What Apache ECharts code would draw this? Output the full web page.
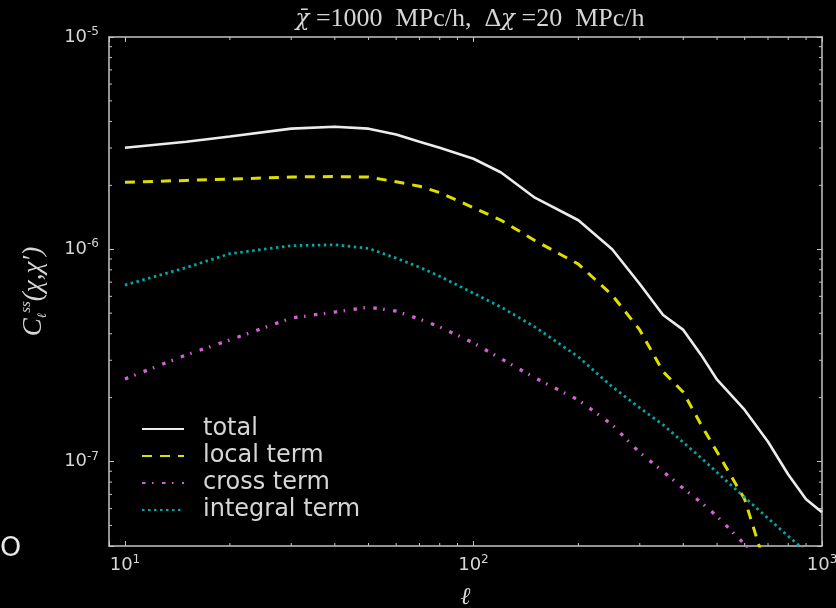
<!DOCTYPE html>
<html>
<head>
<meta charset="utf-8">
<script src="https://cdn.jsdelivr.net/npm/echarts@6/dist/echarts.min.js"></script>
<style>
html,body{margin:0;padding:0;background:#000;}
#chart{width:836px;height:608px;}
</style>
</head>
<body>
<div id="chart"></div>
<script>
// ---- data ----
const ellValues = [10, 15, 20, 30, 40, 50, 60, 70, 80, 100, 120, 150, 200, 250, 300, 350, 400, 450, 500, 600, 700, 800, 900, 1000];
const totalValues = [3.01e-6, 3.21e-6, 3.40e-6, 3.70e-6, 3.78e-6, 3.70e-6, 3.47e-6, 3.21e-6, 3.01e-6, 2.67e-6, 2.30e-6, 1.75e-6, 1.37e-6, 1.00e-6, 6.86e-7, 4.90e-7, 4.17e-7, 3.18e-7, 2.43e-7, 1.75e-7, 1.24e-7, 8.69e-8, 6.64e-8, 5.77e-8];
const localValues = [2.07e-6, 2.11e-6, 2.14e-6, 2.19e-6, 2.20e-6, 2.19e-6, 2.08e-6, 1.98e-6, 1.85e-6, 1.57e-6, 1.37e-6, 1.10e-6, 8.51e-7, 6.08e-7, 4.17e-7, 2.65e-7, 2.12e-7, 1.49e-7, 1.11e-7, 6.64e-8, 2.94e-8, null, null, null];
const crossValues = [2.45e-7, 3.18e-7, 3.74e-7, 4.74e-7, 5.06e-7, 5.34e-7, 5.11e-7, 4.69e-7, 4.31e-7, 3.62e-7, 3.05e-7, 2.48e-7, 1.95e-7, 1.49e-7, 1.10e-7, 8.98e-8, 7.47e-8, 6.42e-8, 5.52e-8, 4.07e-8, 3.10e-8, null, null, null];
const integralValues = [6.78e-7, 8.20e-7, 9.53e-7, 1.04e-6, 1.05e-6, 1.01e-6, 9.08e-7, 8.23e-7, 7.46e-7, 6.21e-7, 5.34e-7, 4.31e-7, 3.11e-7, 2.25e-7, 1.79e-7, 1.49e-7, 1.23e-7, 1.04e-7, 8.88e-8, 6.78e-8, 5.40e-8, 4.45e-8, 3.77e-8, null];
const seriesNames = ['total', 'local term', 'cross term', 'integral term'];
const xMin = 9, xMax = 1000;
const yMin = 4e-8, yMax = 1e-5;
const xMinorTicks = [20, 30, 40, 50, 60, 70, 80, 90, 200, 300, 400, 500, 600, 700, 800, 900];
const yMinorTicks = [5e-8, 6e-8, 7e-8, 8e-8, 9e-8, 2e-7, 3e-7, 4e-7, 5e-7, 6e-7, 7e-7, 8e-7, 9e-7, 2e-6, 3e-6, 4e-6, 5e-6, 6e-6, 7e-6, 8e-6, 9e-6];
const titleText = '{v|χ̄}{t| =1000  MPc/h,  Δ}{v|χ}{t| =20  MPc/h}';

// ---- helpers ----
function pairs(vals) {
  const out = [];
  ellValues.forEach((l, i) => { if (vals[i] != null) out.push([l, vals[i]]); });
  return out;
}
function powLabel(v) {
  const lg = Math.log10(v);
  const e = Math.round(lg);
  if (Math.abs(lg - e) > 1e-6) return '';
  return '{b|10}{s|' + (e < 0 ? '-' + (-e) : e) + '}';
}
const textColor = '#d6d6d6';
const axisColor = '#c4c4c4';
const labelRich = {
  b: { fontFamily: 'DejaVu Sans', fontSize: 18, color: textColor, lineHeight: 22 },
  s: { fontFamily: 'DejaVu Sans', fontSize: 12, color: textColor, lineHeight: 12, verticalAlign: 'top' }
};

const chart = echarts.init(document.getElementById('chart'), null, { renderer: 'canvas' });

function minorTickRender(isX) {
  return function (params, api) {
    const a = api.coord([api.value(0), api.value(1)]);
    const len = 3;
    if (isX) {
      const b = api.coord([api.value(0), yMax]);
      return { type: 'group', children: [
        { type: 'line', shape: { x1: a[0], y1: a[1], x2: a[0], y2: a[1] - len }, style: { stroke: axisColor, lineWidth: 1 } },
        { type: 'line', shape: { x1: b[0], y1: b[1], x2: b[0], y2: b[1] + len }, style: { stroke: axisColor, lineWidth: 1 } }
      ] };
    } else {
      const b = api.coord([xMax, api.value(1)]);
      return { type: 'group', children: [
        { type: 'line', shape: { x1: a[0], y1: a[1], x2: a[0] + len, y2: a[1] }, style: { stroke: axisColor, lineWidth: 1 } },
        { type: 'line', shape: { x1: b[0], y1: b[1], x2: b[0] - len, y2: b[1] }, style: { stroke: axisColor, lineWidth: 1 } }
      ] };
    }
  };
}

const commonAxis = {
  axisLine: { show: true, lineStyle: { color: axisColor, width: 1.5 } },
  axisTick: { show: true, inside: true, length: 5, lineStyle: { color: axisColor, width: 1 } },
  splitLine: { show: false },
  minorTick: { show: false },
  minorSplitLine: { show: false }
};

const option = {
  backgroundColor: '#000000',
  animation: false,
  title: {
    text: titleText,
    left: 465, top: 1, textAlign: 'center',
    textStyle: {
      fontWeight: 'normal',
      rich: {
        t: { fontFamily: 'Liberation Serif', fontWeight: 'normal', fontSize: 26, color: textColor },
        v: { fontFamily: 'DejaVu Serif', fontStyle: 'italic', fontWeight: 'normal', fontSize: 23, color: textColor }
      }
    }
  },
  grid: { left: 109, right: 14, top: 37, bottom: 62, containLabel: false, outerBoundsMode: 'none' },
  legend: {
    orient: 'vertical', left: 136, top: 412,
    itemWidth: 42, itemHeight: 20, itemGap: 3,
    data: seriesNames,
    itemStyle: { color: 'rgba(0,0,0,0)', borderColor: 'rgba(0,0,0,0)', borderWidth: 0, opacity: 0 },
    textStyle: { fontFamily: 'DejaVu Sans', fontSize: 24, lineHeight: 24, color: textColor, padding: [0, 0, 0, 14] }
  },
  xAxis: [
    Object.assign({}, commonAxis, {
      type: 'log', logBase: 10, min: xMin, max: xMax, position: 'bottom',
      axisLabel: { formatter: powLabel, rich: labelRich, margin: 8 },
      name: 'ℓ', nameLocation: 'middle', nameGap: 40,
      nameTextStyle: { fontFamily: 'DejaVu Serif', fontStyle: 'italic', fontSize: 24, color: textColor }
    }),
    Object.assign({}, commonAxis, {
      type: 'log', logBase: 10, min: xMin, max: xMax, position: 'top',
      axisLabel: { show: false }
    })
  ],
  yAxis: [
    Object.assign({}, commonAxis, {
      type: 'log', logBase: 10, min: yMin, max: yMax, position: 'left',
      axisLabel: { formatter: powLabel, rich: labelRich, margin: 10 },
      name: '{c|C}{l|ℓ}{p|ss}{c|(χ,χ′)}', nameLocation: 'middle', nameGap: 60,
      nameTextStyle: {
        rich: {
          c: { fontFamily: 'Liberation Serif', fontStyle: 'italic', fontSize: 27, color: textColor, lineHeight: 30 },
          l: { fontFamily: 'DejaVu Serif', fontStyle: 'italic', fontSize: 13, color: textColor, lineHeight: 14, verticalAlign: 'bottom' },
          p: { fontFamily: 'Liberation Serif', fontStyle: 'italic', fontSize: 15, color: textColor, lineHeight: 15, verticalAlign: 'top' }
        }
      }
    }),
    Object.assign({}, commonAxis, {
      type: 'log', logBase: 10, min: yMin, max: yMax, position: 'right',
      axisLabel: { show: false }
    })
  ],
  graphic: [
    { type: 'text', left: 0, top: 535, style: { text: 'O', fontFamily: 'DejaVu Sans', fontSize: 27, fill: '#e8e8e8' } }
  ],
  series: [
    { name: seriesNames[0], type: 'line', data: pairs(totalValues), symbol: 'none', clip: true,
      lineStyle: { color: '#ececec', width: 2.6, type: 'solid' }, itemStyle: { color: '#ececec' } },
    { name: seriesNames[1], type: 'line', data: pairs(localValues), symbol: 'none', clip: true,
      lineStyle: { color: '#dede00', width: 3, type: [10, 8] }, itemStyle: { color: '#dede00' } },
    { name: seriesNames[2], type: 'line', data: pairs(crossValues), symbol: 'none', clip: true,
      lineStyle: { color: '#d462d4', width: 3.3, type: [3.5, 6.5, 1.5, 8.5] }, itemStyle: { color: '#d462d4' } },
    { name: seriesNames[3], type: 'line', data: pairs(integralValues), symbol: 'none', clip: true,
      lineStyle: { color: '#00a8a8', width: 2.8, type: [2.5, 3.5] }, itemStyle: { color: '#00a8a8' } },
    { type: 'custom', silent: true, clip: false, z: 5, renderItem: minorTickRender(true),
      data: xMinorTicks.map(v => [v, yMin]) },
    { type: 'custom', silent: true, clip: false, z: 5, renderItem: minorTickRender(false),
      data: yMinorTicks.map(v => [xMin, v]) }
  ]
};
chart.setOption(option);
</script>
</body>
</html>
